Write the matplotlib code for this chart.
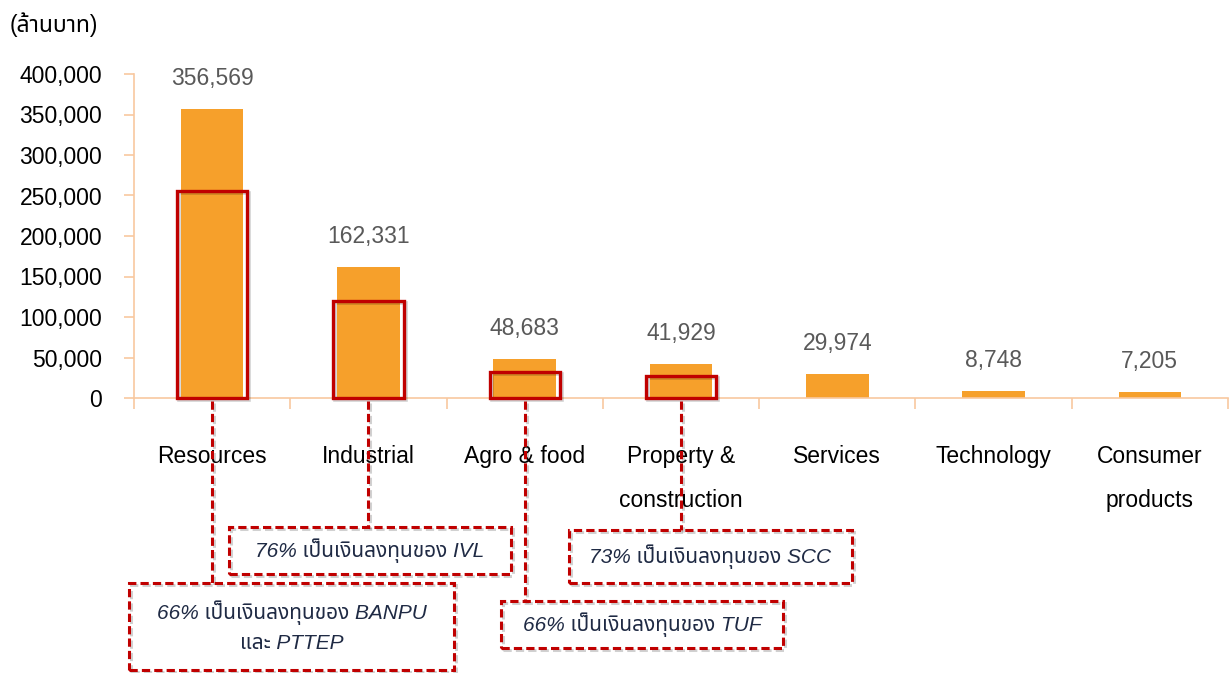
import matplotlib
matplotlib.use("Agg")
import matplotlib.pyplot as plt
from matplotlib import font_manager as fm
from matplotlib.patches import Rectangle
from matplotlib.lines import Line2D
import matplotlib.transforms as mtransforms

# ---------------- data ----------------
categories = ["Resources", "Industrial", "Agro & food", "Property &\nconstruction",
              "Services", "Technology", "Consumer\nproducts"]
values = [356569, 162331, 48683, 41929, 29974, 8748, 7205]
highlight_idx = [0, 1, 2, 3]
highlight_vals = [256000, 120000, 32000, 27000]
notes = ["66% เป็นเงินลงทุนของ BANPU\nและ PTTEP",
         "76% เป็นเงินลงทุนของ IVL",
         "66% เป็นเงินลงทุนของ TUF",
         "73% เป็นเงินลงทุนของ SCC"]
yticks = [0, 50000, 100000, 150000, 200000, 250000, 300000, 350000, 400000]
unit_label = "(ล้านบาท)"

# ---------------- fonts ----------------
thai_candidates = []
try:
    from fontTools.ttLib import TTFont
    for f in fm.fontManager.ttflist:
        try:
            tt = TTFont(f.fname, fontNumber=0, lazy=True)
            cm = tt.getBestCmap()
            if cm and 0x0E40 in cm and 0x0E07 in cm and 0x0E17 in cm:
                thai_candidates.append(f.name)
        except Exception:
            pass
except Exception:
    pass
pref = ["Noto Sans Thai", "Noto Sans Thai UI", "Tahoma", "Leelawadee UI", "Loma", "Garuda",
        "Norasi", "Sarabun", "TH Sarabun New"]
thai_font = None
for p in pref:
    if p in thai_candidates:
        thai_font = p
        break
if thai_font is None and thai_candidates:
    thai_font = thai_candidates[0]
fam = ["Liberation Sans"] + ([thai_font] if thai_font else []) + ["DejaVu Sans"]
plt.rcParams["font.family"] = fam

W, H = 1230, 673
fig = plt.figure(figsize=(W / 100, H / 100), dpi=100)

def fx(x):
    return x / W

def fy(y):
    return 1 - y / H

ax = fig.add_axes([fx(134), fy(398), fx(1228) - fx(134), fy(74) - fy(398)])

bar_color = "#F6A02B"
axis_color = "#F8C8A0"
red = "#C00000"
shadow_col = (0, 0, 0, 0.18)
fs = 16.5

x = list(range(len(categories)))
ax.bar(x, values, width=0.40, color=bar_color, zorder=2)
ax.set_xlim(-0.5, len(categories) - 0.5)
ax.set_ylim(0, 400000)

# value labels
for xi, v in zip(x, values):
    ax.annotate(f"{v:,}", (xi, v), xytext=(0, 19), textcoords="offset pixels",
                ha="center", va="bottom", fontsize=fs, color="#595959")

# highlight boxes (with a soft offset shadow)
shadow_off = mtransforms.ScaledTranslation(2 / 100, -2 / 100, fig.dpi_scale_trans)
for i, hv in zip(highlight_idx, highlight_vals):
    sh = Rectangle((i - 0.225, 0), 0.45, hv, fill=False, edgecolor=shadow_col, lw=2.6, zorder=3,
                   transform=ax.transData + shadow_off, clip_on=False)
    ax.add_patch(sh)
    r = Rectangle((i - 0.225, 0), 0.45, hv, fill=False, edgecolor=red, lw=2.4, zorder=4,
                  clip_on=False)
    ax.add_patch(r)

# axes styling
for s in ["top", "right"]:
    ax.spines[s].set_visible(False)
for s in ["left", "bottom"]:
    ax.spines[s].set_color(axis_color)
    ax.spines[s].set_linewidth(1.2)
ax.set_yticks(yticks)
ax.set_yticklabels([f"{t:,}" for t in yticks], fontsize=fs, color="#000000")
ax.tick_params(axis="y", length=7, width=1.2, color=axis_color, pad=16)
ax.set_xticks(x)
ax.set_xticklabels(categories, fontsize=fs, color="#000000", linespacing=2.15)
ax.tick_params(axis="x", which="major", length=0, pad=34)
ax.set_xticks([i + 0.5 for i in range(-1, len(categories))], minor=True)
ax.tick_params(axis="x", which="minor", length=8, width=1.2, color=axis_color)

fig.text(fx(10), fy(25), unit_label, fontsize=fs, ha="left", va="center", color="#000000")

# annotation boxes (figure pixel layout)
box_pos = [(129, 583, 454, 670), (229, 527, 511, 574), (501, 601, 783, 648), (569, 530, 852, 583)]
dash = (0, (2.7, 1.35))
text_color = "#1F2A44"
fig_shadow = fig.transFigure + shadow_off
for (x0, y0, x1, y1), note, i in zip(box_pos, notes, highlight_idx):
    xd = ax.transData.transform((i, 0))[0]
    x_fig = fig.transFigure.inverted().transform((xd, 0))[0]
    for tr, col, z in [(fig_shadow, shadow_col, 4), (fig.transFigure, red, 5)]:
        r = Rectangle((fx(x0), fy(y1)), fx(x1) - fx(x0), fy(y0) - fy(y1), transform=tr,
                      fill=False, edgecolor=col, lw=2.2, linestyle=dash, zorder=z)
        fig.add_artist(r)
        ln = Line2D([x_fig, x_fig], [fy(401), fy(y0)], transform=tr, color=col,
                    lw=2.2, linestyle=dash, zorder=z)
        fig.add_artist(ln)
    fig.text(fx((x0 + x1) / 2), fy((y0 + y1) / 2), note, ha="center", va="center", fontsize=15,
             style="italic", color=text_color, linespacing=1.6, zorder=6)

fig.savefig("out.png", dpi=100)
